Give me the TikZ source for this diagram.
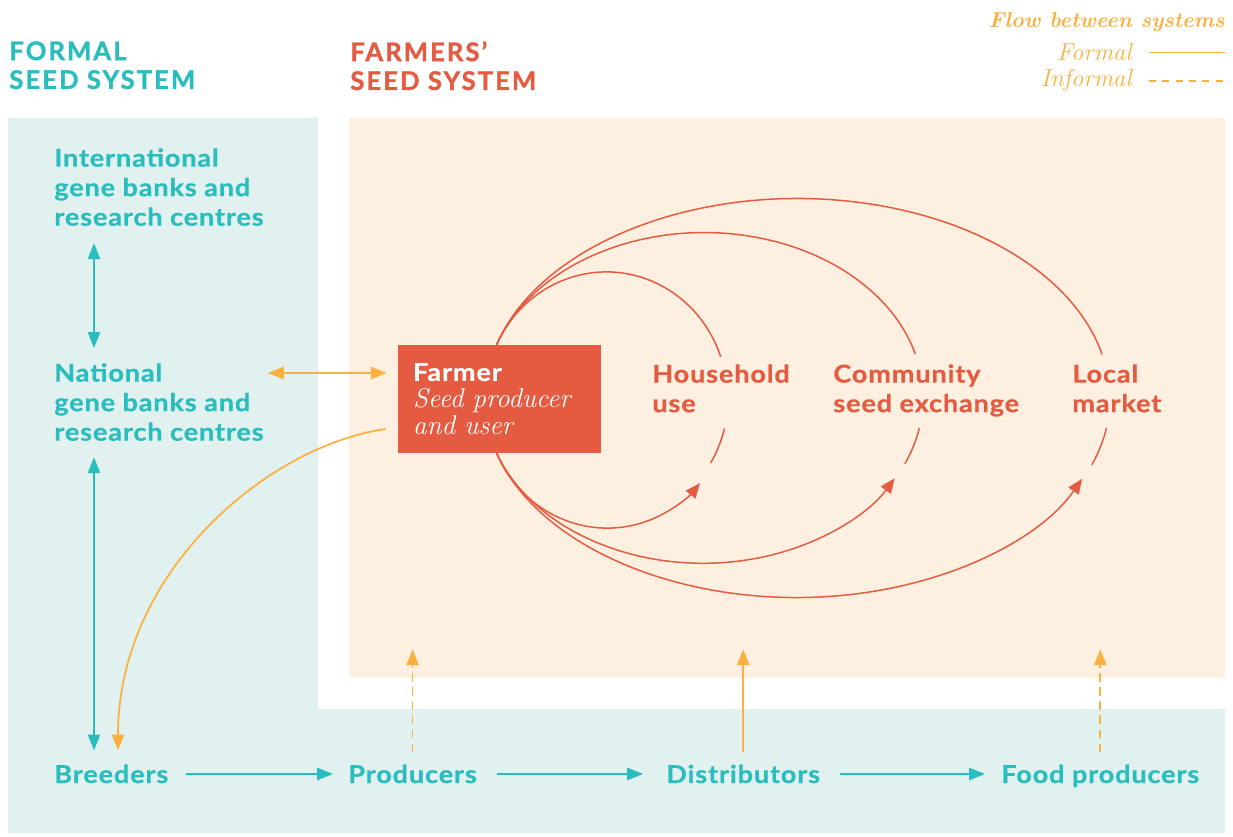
\documentclass[tikz,border=0pt]{standalone}
\usepackage{fontspec}
\setsansfont{Lato}
\newfontfamily\headfont{Lato}[LetterSpace=8,BoldFeatures={FakeBold=1.2}]
\newfontfamily\labelfont{Lato}[FakeStretch=1.1,LetterSpace=3.5,BoldFeatures={FakeBold=0.6}]
\usepackage{tikz}
\usetikzlibrary{arrows.meta,positioning,calc}
\definecolor{seedteal}{HTML}{2ABDBE}
\definecolor{tealbg}{HTML}{E1F1EF}
\definecolor{farmred}{HTML}{E55B41}
\definecolor{peachbg}{HTML}{FEF0E1}
\definecolor{flow}{HTML}{FBB040}

\begin{document}
\begin{tikzpicture}[x=0.02cm,y=0.02cm,every node/.style={inner sep=0pt,align=left},
  lbl/.style={font=\labelfont\bfseries\fontsize{14}{16.8}\selectfont,text=#1,anchor=north west},lbl/.default=seedteal,
  head/.style={font=\headfont\bfseries\fontsize{14.6}{16.4}\selectfont,text=#1,anchor=north west},
  farmbox/.style={fill=farmred,text=white,text width=3.46cm,inner xsep=0.3cm,minimum height=2.16cm,font=\fontsize{15.5}{15.3}\selectfont},
  key/.style={font=\itshape\fontsize{14}{16}\selectfont,text=flow,anchor=base east},
  tealflow/.style={draw=seedteal,line width=0.9pt,-{Triangle[length=9pt,width=7pt]}},
  tealboth/.style={tealflow,{Triangle[length=9pt,width=7pt]}-{Triangle[length=9pt,width=7pt]}},
  formalflow/.style={draw=flow,line width=1pt,-{Triangle[length=9pt,width=7pt]}},
  informalflow/.style={formalflow,dash pattern=on 5pt off 3pt},
  loopline/.style={draw=farmred,line width=0.85pt},
  looparrow/.style={loopline,-{Triangle[length=8.5pt,width=7pt]}}]
\useasboundingbox (0,0) rectangle (1233,836);
% the two systems
\fill[tealbg] (8,718)--(318,718)--(318,127)--(1225,127)--(1225,3)--(8,3)--cycle;
\fill[peachbg] (349,158) rectangle (1225,718);
\node[head=seedteal] (formalhead) at (9,795) {FORMAL\\SEED SYSTEM};
\node[head=farmred] (farmhead) at (350,795) {FARMERS’\\SEED SYSTEM};
% legend
\node[font=\bfseries\itshape\fontsize{12.3}{15}\selectfont,text=flow,anchor=base east] (legend) at (1225,808) {Flow between systems};
\node[key] (formal) at (1132,775) {Formal};
\node[key] (informal) at (1132,749) {Informal};
\draw[flow,line width=1pt] ($(formal.east)+(17,0)$)--++(76,0);
\draw[flow,line width=1pt,dash pattern=on 4pt off 3.6pt] ($(informal.east)+(17,0)$)--++(76,0);
% formal side
\node[lbl] (intl) at (54,688) {International\\gene banks and\\research centres};
\node[lbl] (natl) at (54,473) {National\\gene banks and\\research centres};
\node[lbl,anchor=base west] (breeders) at (54,53) {Breeders};
\node[lbl,anchor=base west] (producers) at (348,53) {Producers};
\node[lbl,anchor=base west] (distrib) at (666,53) {Distributors};
\node[lbl,anchor=base west] (foodprod) at (1001,53) {Food producers};
\draw[tealboth] ($(intl.south west)+(40,-17)$)--($(natl.north west)+(40,15)$);
\draw[tealboth] ($(natl.south west)+(40,-16)$)--($(breeders.north west)+(40,14)$);
\draw[tealflow,shorten <=0.34cm,shorten >=0.3cm] (breeders.east)--(breeders.east -| producers.west);
\draw[tealflow,shorten <=0.4cm,shorten >=0.46cm] (producers.east)--(producers.east -| distrib.west);
\draw[tealflow,shorten <=0.4cm,shorten >=0.32cm] (distrib.east)--(distrib.east -| foodprod.west);
% farmers' side
\node[farmbox] (farmer) at (499.5,437) {{\labelfont\bfseries\fontsize{14}{15.3}\selectfont Farmer}\\\itshape Seed producer\\and user};
\node[lbl=farmred] (household) at (652,472) {Household\\use};
\node[lbl=farmred] (community) at (833,472) {Community\\seed exchange};
\node[lbl=farmred] (market) at (1072,472) {Local\\market};
\coordinate (hcentre) at (607,438);
\coordinate (ccentre) at (704,438);
\coordinate (mcentre) at (798,438);
% household loop
\draw[loopline] ($(farmer.north west)+(99,0)$) arc[start angle=155,end angle=19,x radius=121,y radius=126];
\draw[loopline] (hcentre) ++(-14:121 and 126) arc[start angle=-14,end angle=-31,x radius=121,y radius=126];
\draw[looparrow] ($(farmer.south west)+(99,0)$) arc[start angle=204,end angle=320,x radius=121,y radius=126];
% community loop
\draw[loopline] ($(farmer.north west)+(99,0)$) arc[start angle=161.3,end angle=15.3,x radius=219,y radius=165];
\draw[loopline] (ccentre) ++(-10.5:219 and 165) arc[start angle=-10.5,end angle=-23.5,x radius=219,y radius=165];
\draw[looparrow] ($(farmer.south west)+(99,0)$) arc[start angle=199.5,end angle=331,x radius=219,y radius=165];
% market loop
\draw[loopline] ($(farmer.north west)+(99,0)$) arc[start angle=164.6,end angle=12.5,x radius=312,y radius=199];
\draw[loopline] (mcentre) ++(-8.7:312 and 199) arc[start angle=-8.7,end angle=-19.6,x radius=312,y radius=199];
\draw[looparrow] ($(farmer.south west)+(99,0)$) arc[start angle=196,end angle=336.2,x radius=312,y radius=199];
% flows between the systems
\draw[formalflow,{Triangle[length=9pt,width=7pt]}-{Triangle[length=9pt,width=7pt]}] ($(natl.east |- farmer.west)+(4,26)$)--($(farmer.west)+(-11,26)$);
\draw[formalflow] ($(farmer.west)+(-12,-30)$) .. controls +(-116,-16) and +(0,180) .. ($(breeders.north west)+(64,14)$);
\draw[informalflow] ($(producers.north)+(0,12)$)--++(0,103);
\draw[formalflow] ($(distrib.north)+(0,12)$)--++(0,103);
\draw[informalflow] ($(foodprod.north)+(0,12)$)--++(0,103);
\end{tikzpicture}
\end{document}
